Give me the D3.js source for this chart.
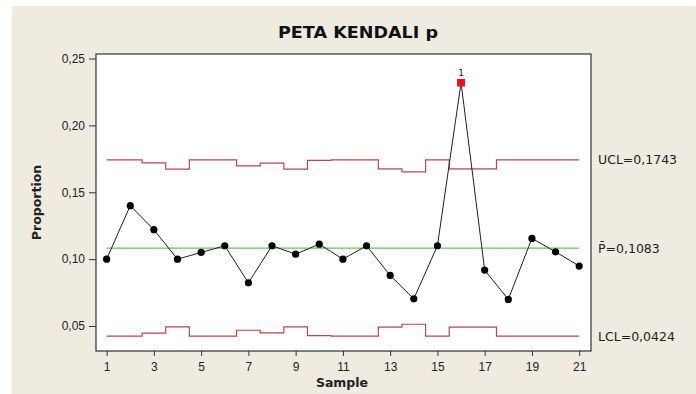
<!DOCTYPE html>
<html>
<head>
<meta charset="utf-8">
<script src="https://cdn.jsdelivr.net/npm/d3@7"></script>
<style>
  body { margin: 0; background: #fff; }
  svg { display: block; font-family: "DejaVu Sans", Verdana, sans-serif; }
  .axis path, .axis line { stroke: #333; }
  .axis text { fill: #222; font-size: 12px; }
</style>
</head>
<body>
<svg id="chart" width="696" height="394"></svg>
<script>
// sample numbers and proportions
var samples = d3.range(1, 22);
var proportions = [0.100, 0.140, 0.122, 0.100, 0.105, 0.110, 0.0823, 0.110, 0.1037, 0.1112,
                   0.100, 0.110, 0.0878, 0.0703, 0.110, 0.2319, 0.0918, 0.0699, 0.1155, 0.1055, 0.0948];
// control limits per sample (vary with sample size)
var ucl = [0.1743, 0.1743, 0.1720, 0.1673, 0.1743, 0.1743, 0.1698, 0.1718, 0.1673, 0.1738,
           0.1743, 0.1743, 0.1675, 0.1653, 0.1743, 0.1675, 0.1675, 0.1743, 0.1743, 0.1743, 0.1743];
var lcl = [0.0424, 0.0424, 0.0446, 0.0493, 0.0424, 0.0424, 0.0468, 0.0448, 0.0493, 0.0428,
           0.0424, 0.0424, 0.0491, 0.0513, 0.0424, 0.0491, 0.0491, 0.0424, 0.0424, 0.0424, 0.0424];
var pBar = 0.1083;
var outOfControl = [16];   // flagged by test 1
var yTicks = [0.05, 0.10, 0.15, 0.20, 0.25];
var xTicks = [1, 3, 5, 7, 9, 11, 13, 15, 17, 19, 21];
var limitLabels = [
  { text: "UCL=0,1743", value: 0.1743 },
  { text: "P\u0304=0,1083", value: pBar },
  { text: "LCL=0,0424", value: 0.0424 }
];

var svg = d3.select("#chart");
var W = 696, H = 394;
var plot = { left: 96, right: 591, top: 54, bottom: 351 };

var idLocale = d3.formatLocale({ decimal: ",", thousands: ".", grouping: [3], currency: ["", ""] });
var fmt = idLocale.format(".2f");

// beige panel (white strip on top and left edge like the screenshot)
svg.append("rect").attr("x", 12).attr("y", 6).attr("width", W - 12).attr("height", H - 6)
  .style("fill", "#efebe1");

var x = d3.scaleLinear().domain([0.55, 21.5]).range([plot.left, plot.right]);
var y = d3.scaleLinear().domain([0.0313, 0.2534]).range([plot.bottom, plot.top]);

svg.append("rect")
  .attr("x", plot.left).attr("y", plot.top)
  .attr("width", plot.right - plot.left).attr("height", plot.bottom - plot.top)
  .style("fill", "#fff").style("stroke", "#333").style("stroke-width", 1.2);

svg.append("g").attr("class", "axis")
  .attr("transform", "translate(" + plot.left + ",0)")
  .call(d3.axisLeft(y).tickValues(yTicks).tickFormat(fmt).tickSize(7).tickPadding(4).tickSizeOuter(0))
  .call(function(g) { g.select(".domain").remove(); });

svg.append("g").attr("class", "axis")
  .attr("transform", "translate(0," + plot.bottom + ")")
  .call(d3.axisBottom(x).tickValues(xTicks).tickFormat(d3.format("d")).tickSize(5).tickPadding(6).tickSizeOuter(0))
  .call(function(g) { g.select(".domain").remove(); });

var stepLine = d3.line()
  .x(function(d, i) { return x(samples[i]); })
  .y(function(d) { return y(d); })
  .curve(d3.curveStep);

svg.append("path").datum(ucl).attr("d", stepLine)
  .style("fill", "none").style("stroke", "#b9474a").style("stroke-width", 1.2);
svg.append("path").datum(lcl).attr("d", stepLine)
  .style("fill", "none").style("stroke", "#b9474a").style("stroke-width", 1.2);

svg.append("line")
  .attr("x1", x(samples[0])).attr("x2", x(samples[samples.length - 1]))
  .attr("y1", y(pBar)).attr("y2", y(pBar))
  .style("stroke", "#5fc85f").style("stroke-width", 1.2);

var dataLine = d3.line()
  .x(function(d, i) { return x(samples[i]); })
  .y(function(d) { return y(d); });

svg.append("path").datum(proportions).attr("d", dataLine)
  .style("fill", "none").style("stroke", "#222").style("stroke-width", 1);

var pts = samples.map(function(s, i) { return { s: s, p: proportions[i] }; });

svg.append("g").selectAll("circle")
  .data(pts.filter(function(d) { return outOfControl.indexOf(d.s) < 0; }))
  .enter().append("circle")
    .attr("cx", function(d) { return x(d.s); })
    .attr("cy", function(d) { return y(d.p); })
    .attr("r", 3.6)
    .style("fill", "#000");

var flagged = pts.filter(function(d) { return outOfControl.indexOf(d.s) >= 0; });
svg.append("g").selectAll("rect")
  .data(flagged)
  .enter().append("rect")
    .attr("x", function(d) { return x(d.s) - 4; })
    .attr("y", function(d) { return y(d.p) - 3.8; })
    .attr("width", 8).attr("height", 7.6)
    .style("fill", "#e8141b");
svg.append("g").selectAll("text")
  .data(flagged)
  .enter().append("text")
    .attr("x", function(d) { return x(d.s); })
    .attr("y", function(d) { return y(d.p) - 7; })
    .attr("text-anchor", "middle")
    .style("font-size", "9px").style("fill", "#222")
    .text("1");

svg.append("g").selectAll("text")
  .data(limitLabels)
  .enter().append("text")
    .attr("x", 598)
    .attr("y", function(d) { return y(d.value); })
    .attr("dy", "0.36em")
    .style("font-size", "12.5px").style("fill", "#222")
    .text(function(d) { return d.text; });

svg.append("text")
  .attr("x", 358).attr("y", 37.5)
  .attr("text-anchor", "middle")
  .attr("textLength", 160).attr("lengthAdjust", "spacingAndGlyphs")
  .style("font-size", "15px").style("font-weight", "bold").style("fill", "#111")
  .text("PETA KENDALI p");

svg.append("text")
  .attr("transform", "translate(41," + ((plot.top + plot.bottom) / 2) + ") rotate(-90)")
  .attr("text-anchor", "middle")
  .style("font-size", "12.5px").style("font-weight", "bold").style("fill", "#222")
  .text("Proportion");

svg.append("text")
  .attr("x", 342).attr("y", 387)
  .attr("text-anchor", "middle")
  .style("font-size", "12.5px").style("font-weight", "bold").style("fill", "#222")
  .text("Sample");
</script>
</body>
</html>
